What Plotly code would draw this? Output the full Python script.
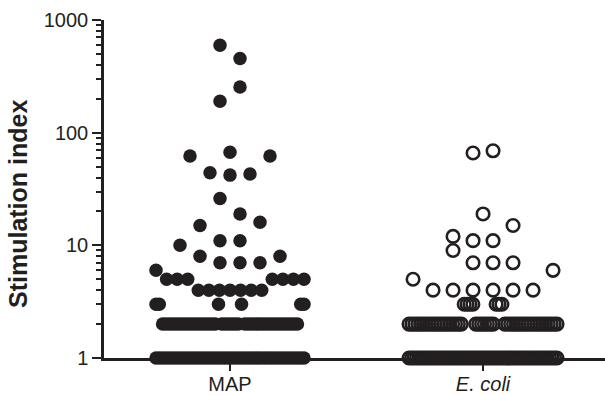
import math
import plotly.graph_objects as go

# Stimulation index per animal, stored as runs in record order:
# each level is repeated *_repeat times.
map_level = [598, 455, 190, 254, 67, 42, 43, 44, 62, 26, 19, 11, 15, 16,
             7, 8, 7, 10, 8, 4, 5, 6, 2, 3, 2, 3, 1]
map_repeat = [1, 1, 1, 1, 1, 1, 1, 1, 2, 1, 1, 2, 1, 1,
              2, 1, 1, 1, 1, 7, 7, 1, 6, 2, 34, 4, 42]

ecoli_level = [66, 69, 19, 11, 12, 15, 7, 9, 7, 4, 5, 6, 2, 3, 2, 3, 2, 1]
ecoli_repeat = [1, 1, 1, 2, 1, 1, 2, 1, 1, 6, 1, 1, 6, 1, 1, 6, 38, 60]

categories = ["MAP", "E. coli"]
tick_labels = ["MAP", "<i>E. coli</i>"]
y_tick_values = [1, 10, 100, 1000]

INK = "#231f20"
FONT = "Liberation Sans, Arial, sans-serif"

W, H = 605, 395
MARGIN = dict(l=104, r=0, t=20, b=37)
X_RANGE = [-0.498, 1.482]
Y_LOG_RANGE = [0, 3]
PX_PER_X = (W - MARGIN["l"] - MARGIN["r"]) / (X_RANGE[1] - X_RANGE[0])


def expand(levels, repeats):
    out = []
    for v, n in zip(levels, repeats):
        out += [v] * n
    return out


def dot_plot_offsets(values, bin_decades=0.186, step_px=20.0, max_row_px=148.0):
    """Scatter-dot-plot layout. Working upwards from the lowest value, points
    within bin_decades of a band's bottom share that band; each band is spread
    side by side around the column centre, filled centre-out in record order,
    and squeezed when it would get wider than max_row_px."""
    logs = [math.log10(v) for v in values]
    by_value = sorted(range(len(values)), key=lambda i: (logs[i], i))
    offsets = [0.0] * len(values)
    k = 0
    while k < len(by_value):
        bottom = logs[by_value[k]]
        members = []
        while k < len(by_value) and logs[by_value[k]] - bottom <= bin_decades:
            members.append(by_value[k])
            k += 1
        members.sort()
        n = len(members)
        step = step_px if (n - 1) * step_px <= max_row_px else max_row_px / max(n - 1, 1)
        m = (n - 1) // 2
        slots = [m]
        i = 1
        while len(slots) < n:
            if m + i < n:
                slots.append(m + i)
            if m - i >= 0:
                slots.append(m - i)
            i += 1
        for idx, slot in zip(members, slots):
            offsets[idx] = (slot - (n - 1) / 2) * step / PX_PER_X
    return offsets


map_values = expand(map_level, map_repeat)
ecoli_values = expand(ecoli_level, ecoli_repeat)

map_x = [0 + d for d in dot_plot_offsets(map_values)]
ecoli_x = [1 + d for d in dot_plot_offsets(ecoli_values)]

fig = go.Figure()
fig.add_trace(go.Scatter(
    x=map_x, y=map_values, mode="markers", name=categories[0],
    marker=dict(symbol="circle", size=13.5, color=INK, line=dict(width=0)),
    cliponaxis=False, hoverinfo="y",
))
fig.add_trace(go.Scatter(
    x=ecoli_x, y=ecoli_values, mode="markers", name=categories[1],
    marker=dict(symbol="circle-open", size=12.5, color=INK,
                line=dict(width=2.6, color=INK)),
    cliponaxis=False, hoverinfo="y",
))

minor_vals = [d * 10 ** e for e in range(3) for d in range(2, 10)]

fig.update_layout(
    width=W, height=H, margin=MARGIN,
    paper_bgcolor="white", plot_bgcolor="white",
    showlegend=False,
    font=dict(family=FONT, color=INK, size=20),
    xaxis=dict(
        range=X_RANGE, tickvals=[0, 1], ticktext=tick_labels,
        ticks="outside", ticklen=10, tickwidth=2, tickcolor=INK,
        ticklabelstandoff=-4,
        showline=True, linewidth=2.5, linecolor=INK,
        showgrid=False, zeroline=False,
        tickfont=dict(size=20, family=FONT, color=INK),
    ),
    yaxis=dict(
        type="log", range=Y_LOG_RANGE,
        tickvals=y_tick_values, ticktext=[str(v) for v in y_tick_values],
        ticks="outside", ticklen=9, tickwidth=2, tickcolor=INK,
        showline=True, linewidth=2.5, linecolor=INK,
        showgrid=False, zeroline=False,
        tickfont=dict(size=20, family=FONT, color=INK),
        minor=dict(tickvals=minor_vals, ticks="outside", ticklen=5,
                   tickwidth=2, tickcolor=INK, showgrid=False),
    ),
    annotations=[dict(
        text="<b>Stimulation index</b>", textangle=-90,
        xref="paper", yref="paper",
        x=(18 - MARGIN["l"]) / (W - MARGIN["l"] - MARGIN["r"]),
        y=(H - MARGIN["b"] - 204) / (H - MARGIN["t"] - MARGIN["b"]),
        xanchor="center", yanchor="middle", showarrow=False,
        font=dict(size=25, family=FONT, color=INK),
    )],
)

fig.write_html("out.html")
